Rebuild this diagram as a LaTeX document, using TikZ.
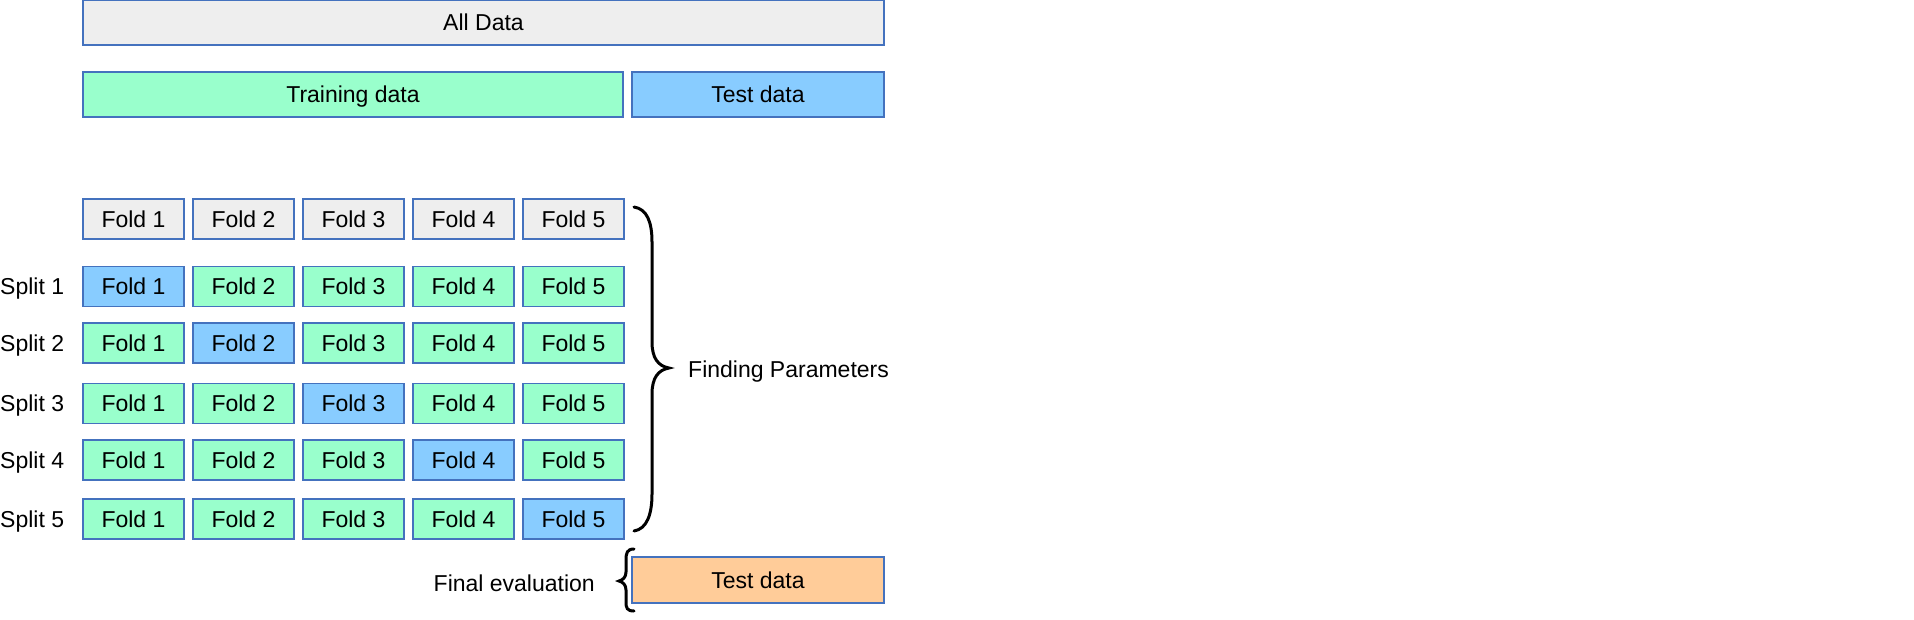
\documentclass[tikz,border=0pt]{standalone}
\usepackage{fontspec}
\setmainfont{Liberation Sans}
\definecolor{edgec}{RGB}{68,114,190}
\definecolor{allc}{RGB}{238,238,238}
\definecolor{trainc}{RGB}{153,255,204}
\definecolor{testc}{RGB}{136,204,255}
\definecolor{evalc}{RGB}{255,204,153}
\tikzset{
  txt/.style={inner sep=0pt, text height=18.5pt, text depth=2pt, font=\fontsize{23}{27}\selectfont},
  box/.style={txt, draw=edgec, line width=1.2pt},
  fold/.style={box, minimum width=101pt, minimum height=40pt},
  lbl/.style={txt},
  brc/.style={line width=3pt, line cap=round}
}
\begin{document}
\begin{tikzpicture}[x=1pt, y=-1pt]
\useasboundingbox (0,0) rectangle (1914,619);

\node[box, fill=allc, minimum width=801pt, minimum height=45pt] (all) at (483.5,22.5) {All Data};
\node[box, fill=trainc, minimum width=540pt, minimum height=45pt] (train) at (353,94.5) {Training data};
\node[box, fill=testc, minimum width=252pt, minimum height=45pt] (test) at (758,94.5) {Test data};

\foreach \c in {1,...,5}
  \node[fold, fill=allc] (f0\c) at (23.5+110*\c,219) {Fold \c};

\foreach \r/\y in {1/286.5, 2/343, 3/403.5, 4/460, 5/519}{
  \node[lbl, anchor=west] (s\r) at (0,\y) {Split \r};
  \foreach \c in {1,...,5}{
    \ifnum\c=\r \def\fc{testc}\else\def\fc{trainc}\fi
    \node[fold, fill=\fc] (f\r\c) at (23.5+110*\c,\y) {Fold \c};
  }
}

\node[box, fill=evalc, minimum width=252pt, minimum height=46pt] (final) at (758,580) {Test data};
\node[lbl, anchor=west] (find) at (688,369) {Finding Parameters};
\node[lbl, anchor=east] (eval) at (595,583) {Final evaluation};

\draw[brc] (634,207) .. controls (647,209) and (652,222) .. (652,242) -- (652,342)
  .. controls (652,358) and (658,366) .. (669,368)
  .. controls (658,370) and (652,378) .. (652,394) -- (652,494)
  .. controls (652,514) and (647,529) .. (634,531);
\draw[brc] (634,549) .. controls (627,549) and (626,553) .. (626,560) -- (626,572)
  .. controls (626,577) and (623,580) .. (619,581)
  .. controls (623,582) and (626,585) .. (626,590) -- (626,602)
  .. controls (626,608) and (627,611) .. (634,611);
\end{tikzpicture}
\end{document}
